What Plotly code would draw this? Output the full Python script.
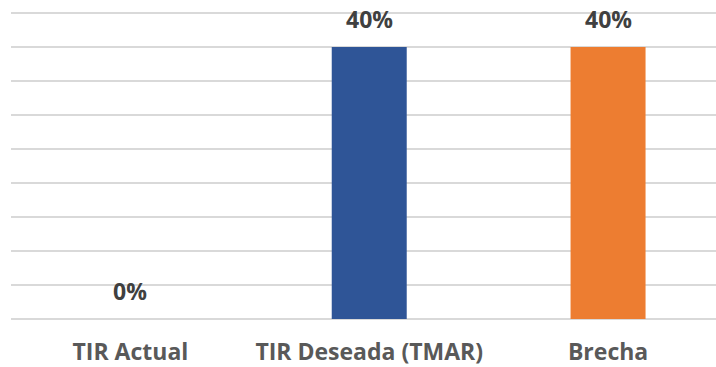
import plotly.graph_objects as go

# Rates being compared
categories = ["TIR Actual", "TIR Deseada (TMAR)", "Brecha"]
values = [0.0, 0.40, 0.40]
bar_colors = ["#2F5597", "#2F5597", "#ED7D31"]

fig = go.Figure()
fig.add_trace(go.Bar(
    x=categories,
    y=values,
    marker=dict(color=bar_colors, line=dict(width=0)),
    width=0.314,
    hoverinfo="skip",
))

# Value labels above each bar
for cat, val in zip(categories, values):
    fig.add_annotation(
        x=cat, y=val, text=f"<b>{val:.0%}</b>",
        showarrow=False, yanchor="bottom", yshift=10,
        font=dict(family="Open Sans", size=23, color="#404040"),
    )

fig.update_layout(
    width=716, height=367,
    margin=dict(l=11, r=0, t=2, b=48),
    paper_bgcolor="white", plot_bgcolor="white",
    showlegend=False,
    xaxis=dict(
        range=[-0.5, 2.452],
        showgrid=False, showline=False, ticks="",
        ticklabelstandoff=17,
        tickfont=dict(family="Open Sans", size=23, color="#595959", weight="bold"),
    ),
    yaxis=dict(
        range=[0, 0.4662], dtick=0.05,
        showgrid=True, gridcolor="#D9D9D9", gridwidth=1.5,
        zeroline=True, zerolinecolor="#D9D9D9", zerolinewidth=1.5,
        showticklabels=False, ticks="",
    ),
)

fig.write_html("out.html")
